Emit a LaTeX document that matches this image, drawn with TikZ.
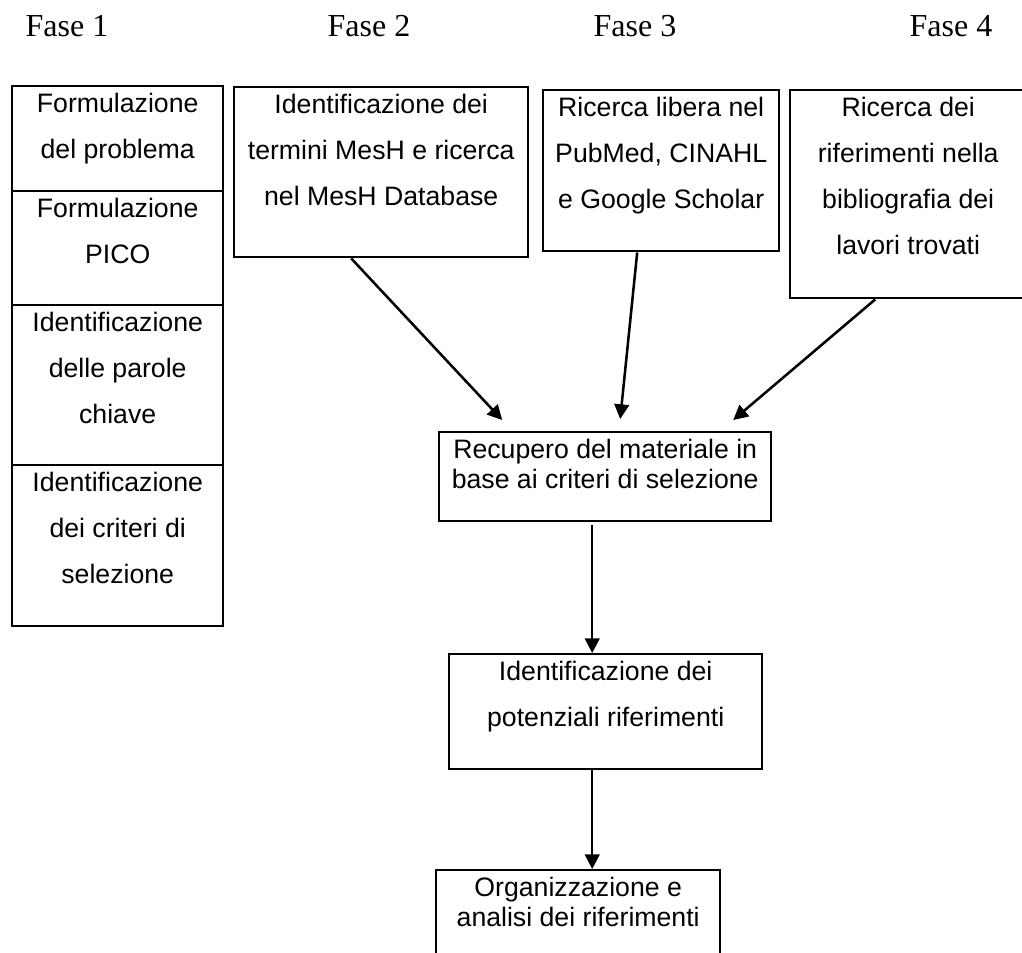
\documentclass[tikz,border=0pt]{standalone}
\usepackage{fontspec}
\setmainfont{Liberation Serif}
\newfontfamily\arialfont{Liberation Sans}
\usetikzlibrary{arrows.meta,calc}
% box contents: #1=width, #2=height, #3=line skip, #4=text
\newcommand{\boxtxt}[4]{%
    \begin{minipage}[t][#2][t]{#1}\centering
    \arialfont\fontsize{10pt}{#3}\selectfont\rule{0pt}{9.75pt}#4\end{minipage}}

\begin{document}
\begin{tikzpicture}[x=0.375pt, y=-0.375pt,
    phase/.style={anchor=base, font=\fontsize{12pt}{14pt}\selectfont},
    stepbox/.style={draw, line width=0.9pt, inner sep=0pt, anchor=north west},
    arr/.style={-{Triangle[length=5.5pt, width=5.5pt]}, line width=0.95pt}
]
    \useasboundingbox (0,0) rectangle (1022,952);

    % phase titles
    \node[phase] (p1) at (67,36) {Fase 1};
    \node[phase] (p2) at (369,36) {Fase 2};
    \node[phase] (p3) at (635,36) {Fase 3};
    \node[phase] (p4) at (951,36) {Fase 4};

    % phase 1 stack
    \node[stepbox] (f1a) at (11,85) {\boxtxt{79.125pt}{39.375pt}{17.25pt}{Formulazione\\del problema}};
    \node[stepbox] (f1b) at (11,190) {\boxtxt{79.125pt}{42.75pt}{17.25pt}{Formulazione\\PICO}};
    \node[stepbox] (f1c) at (11,304) {\boxtxt{79.125pt}{60pt}{17.25pt}{Identificazione\\delle parole\\chiave}};
    \node[stepbox] (f1d) at (11,464) {\boxtxt{79.125pt}{60.375pt}{17.25pt}{Identificazione\\dei criteri di\\selezione}};

    % phases 2-4
    \node[stepbox] (mesh) at (233,86) {\boxtxt{110.25pt}{63.75pt}{17.25pt}{Identificazione dei\\termini MesH e ricerca\\nel MesH Database}};
    \node[stepbox] (free) at (542,89) {\boxtxt{88.5pt}{60.375pt}{17.25pt}{Ricerca libera nel\\PubMed, CINAHL\\e Google Scholar}};
    \node[stepbox] (bib) at (789,89) {\boxtxt{88.5pt}{78pt}{17.25pt}{Ricerca dei\\riferimenti nella\\bibliografia dei\\lavori trovati}};

    % common flow
    \node[stepbox] (recup) at (438,431) {\boxtxt{124.5pt}{33.375pt}{11.25pt}{Recupero del materiale in\\base ai criteri di selezione}};
    \node[stepbox] (poten) at (448,653) {\boxtxt{117.375pt}{43.125pt}{17.5pt}{Identificazione dei\\potenziali riferimenti}};
    \node[stepbox] (organ) at (435,869) {\boxtxt{106.5pt}{33pt}{11.25pt}{Organizzazione e\\analisi dei riferimenti}};

    \draw[arr] ($(mesh.south)+(-30,0)$) -- ($(recup.north)+(-103,-11)$);
    \draw[arr] ($(free.south)+(-24,0)$) -- ($(recup.north)+(15,-12)$);
    \draw[arr] ($(bib.south)+(-33,0)$) -- ($(recup.north)+(128,-11)$);
    \draw[arr] ($(recup.south)+(-13,3)$) -- ($(poten.north)+(-13.5,0)$);
    \draw[arr] ($(poten.south)+(-13.5,0)$) -- ($(organ.north)+(14,0)$);
\end{tikzpicture}
\end{document}
